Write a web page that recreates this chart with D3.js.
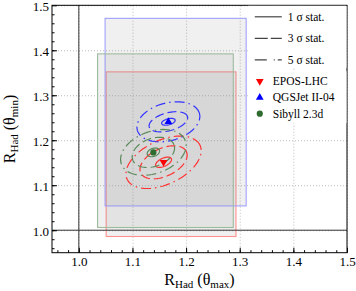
<!DOCTYPE html>
<html>
<head>
<meta charset="utf-8">
<script src="https://cdn.jsdelivr.net/npm/d3@7"></script>
<style>
  body { margin: 0; background: #fff; }
  text { font-family: "Liberation Serif", "DejaVu Serif", serif; fill: #000; }
</style>
</head>
<body>
<div id="chart"></div>
<script>
// ---- data ----
const models = ["EPOS-LHC", "QGSJet II-04", "Sibyll 2.3d"];
const centerX = [1.158, 1.167, 1.139];
const centerY = [1.151, 1.241, 1.173];
// systematic boxes
const boxXMin = [1.051, 1.049, 1.035];
const boxXMax = [1.293, 1.312, 1.288];
const boxYMin = [0.986, 1.054, 1.006];
const boxYMax = [1.352, 1.471, 1.392];
// stat. contours: [half axis along x, half axis along y] for 1, 3, 5 sigma
const sigmaLabels = ["1 σ stat.", "3 σ stat.", "5 σ stat."];
const contourAxes = [
  [[0.016, 0.009], [0.047, 0.031], [0.075, 0.049]],
  [[0.013, 0.0067], [0.037, 0.020], [0.060, 0.042]],
  [[0.012, 0.0089], [0.041, 0.031], [0.0635, 0.0467]]
];
const contourTilt = [25, 15, 20]; // degrees
const xTicks = [1.0, 1.1, 1.2, 1.3, 1.4, 1.5];
const yTicks = [1.0, 1.1, 1.2, 1.3, 1.4, 1.5];

// ---- styles ----
const markerColor = ["#ff0000", "#0000ff", "#2e6b2e"];
const lineColor = ["#ff3333", "#3333ff", "#5a8a5a"];
const boxStroke = ["#ff9090", "#a0a0ff", "#9dbb9d"];
const dashes = [null, "9,4", "10,4,1.5,4"];

// set the dimensions and margins of the graph
const margin = { top: 5.3, right: 9, bottom: 38.3, left: 52 };
const width = 356 - margin.left - margin.right,
  height = 291 - margin.top - margin.bottom;

const svg = d3.select("#chart")
  .append("svg")
  .attr("width", 356)
  .attr("height", 291)
  .append("g")
  .attr("transform", "translate(" + margin.left + "," + margin.top + ")");

const x = d3.scaleLinear().domain([0.95, 1.5]).range([0, width]);
const y = d3.scaleLinear().domain([0.95, 1.5]).range([height, 0]);

// grid
svg.append("g")
  .attr("transform", "translate(0," + height + ")")
  .call(d3.axisBottom(x).tickValues(xTicks).tickSize(-height).tickFormat(""))
  .call(g => g.select(".domain").remove())
  .selectAll("line").attr("stroke", "#bbb").attr("stroke-dasharray", "1,2");
svg.append("g")
  .call(d3.axisLeft(y).tickValues(yTicks).tickSize(-width).tickFormat(""))
  .call(g => g.select(".domain").remove())
  .selectAll("line").attr("stroke", "#bbb").attr("stroke-dasharray", "1,2");

// boxes
const idx = d3.range(models.length);
svg.selectAll("rect.box")
  .data(idx)
  .enter()
  .append("rect")
  .attr("class", "box")
  .attr("x", function (i) { return x(boxXMin[i]); })
  .attr("y", function (i) { return y(boxYMax[i]); })
  .attr("width", function (i) { return x(boxXMax[i]) - x(boxXMin[i]); })
  .attr("height", function (i) { return y(boxYMin[i]) - y(boxYMax[i]); })
  .attr("fill", "#888")
  .attr("fill-opacity", 0.13)
  .attr("stroke", function (i) { return boxStroke[i]; })
  .attr("stroke-width", 1.1);

// reference lines at 1.0
svg.append("line")
  .attr("x1", x(1.0)).attr("x2", x(1.0))
  .attr("y1", 0).attr("y2", height)
  .attr("stroke", "#333").attr("stroke-width", 1);
svg.append("line")
  .attr("x1", 0).attr("x2", width)
  .attr("y1", y(1.0)).attr("y2", y(1.0))
  .attr("stroke", "#333").attr("stroke-width", 1);

// contours
function ellipsePoints(i, level) {
  const a = contourAxes[i][level][0], b = contourAxes[i][level][1];
  const cx = x(centerX[i]), cy = y(centerY[i]);
  const th = contourTilt[i] * Math.PI / 180;
  const pts = [];
  for (let k = 0; k < 72; k++) {
    const t = k / 72 * 2 * Math.PI;
    const dx = x(centerX[i] + a * Math.cos(t)) - cx;
    const dy = y(centerY[i] + b * Math.sin(t)) - cy;
    pts.push([cx + dx * Math.cos(th) + dy * Math.sin(th),
              cy - dx * Math.sin(th) + dy * Math.cos(th)]);
  }
  return pts;
}
const line = d3.line().curve(d3.curveLinearClosed);
idx.forEach(function (i) {
  [0, 1, 2].forEach(function (lv) {
    svg.append("path")
      .attr("d", line(ellipsePoints(i, lv)))
      .attr("fill", "none")
      .attr("stroke", lineColor[i])
      .attr("stroke-width", 1.2)
      .attr("stroke-dasharray", dashes[lv]);
  });
});

// markers
const tri = d3.symbol().type(d3.symbolTriangle).size(26);
const circ = d3.symbol().type(d3.symbolCircle).size(30);
function marker(sel, i) {
  sel.append("path")
    .attr("d", i === 2 ? circ() : tri())
    .attr("transform", i === 0 ? "rotate(180)" : null)
    .attr("fill", markerColor[i]);
}
idx.forEach(function (i) {
  const g = svg.append("g")
    .attr("transform", "translate(" + x(centerX[i]) + "," + y(centerY[i]) + ")");
  marker(g, i);
});

// axes: major and minor ticks inside the frame
const minor = d3.range(0.96, 1.5, 0.02);
svg.append("g")
  .attr("transform", "translate(0," + height + ")")
  .call(d3.axisBottom(x).tickValues(minor).tickSize(-2.5).tickFormat(""))
  .call(g => g.select(".domain").remove());
svg.append("g")
  .call(d3.axisLeft(y).tickValues(minor).tickSize(-2.5).tickFormat(""))
  .call(g => g.select(".domain").remove());
const xAxis = svg.append("g")
  .attr("transform", "translate(0," + height + ")")
  .call(d3.axisBottom(x).tickValues(xTicks).tickSize(-5).tickPadding(4).tickFormat(d3.format(".1f")))
  .call(g => g.select(".domain").remove());
xAxis.selectAll("text").attr("font-size", 13).attr("font-family", "Liberation Serif");
const yAxis = svg.append("g")
  .call(d3.axisLeft(y).tickValues(yTicks).tickSize(-5).tickPadding(3).tickFormat(d3.format(".1f")))
  .call(g => g.select(".domain").remove());
yAxis.selectAll("text").attr("font-size", 13).attr("dy", "0.4em")
  .attr("font-family", "Liberation Serif");
svg.selectAll(".tick line").filter(function () { return !this.getAttribute("stroke-dasharray"); })
  .attr("stroke", "#000");

// frame
svg.append("rect")
  .attr("width", width).attr("height", height)
  .attr("fill", "none").attr("stroke", "#000").attr("stroke-width", 1);

// axis titles
const xt = svg.append("text")
  .attr("x", width / 2).attr("y", height + 32)
  .attr("text-anchor", "middle").attr("font-size", 16);
xt.append("tspan").text("R");
xt.append("tspan").attr("font-size", 11).attr("dy", 3).text("Had");
xt.append("tspan").attr("dy", -3).text(" (θ");
xt.append("tspan").attr("font-size", 11).attr("dy", 3).text("max");
xt.append("tspan").attr("dy", -3).text(")");

const yt = svg.append("text")
  .attr("transform", "translate(" + (-37) + "," + (height / 2) + ")rotate(-90)")
  .attr("text-anchor", "middle").attr("font-size", 16);
yt.append("tspan").text("R");
yt.append("tspan").attr("font-size", 11).attr("dy", 3).text("Had");
yt.append("tspan").attr("dy", -3).text(" (θ");
yt.append("tspan").attr("font-size", 11).attr("dy", 3).text("min");
yt.append("tspan").attr("dy", -3).text(")");

// legend for line styles
const lx = x(1.315), lw = width - x(1.315);
svg.append("rect")
  .attr("x", lx).attr("y", 0.5).attr("width", lw - 0.5).attr("height", 62)
  .attr("fill", "#fff");
sigmaLabels.forEach(function (lab, k) {
  const ly = 11.5 + k * 21.5;
  svg.append("line")
    .attr("x1", lx + 7).attr("x2", lx + 34)
    .attr("y1", ly).attr("y2", ly)
    .attr("stroke", "#444").attr("stroke-width", 1.2)
    .attr("stroke-dasharray", k === 1 ? "13,3" : (k === 2 ? "12,7,1,3" : null));
  svg.append("text")
    .attr("x", lx + 40).attr("y", ly + 4)
    .attr("font-size", 11.5).text(lab);
});

// legend for models
svg.append("rect")
  .attr("x", lx).attr("y", 66).attr("width", lw - 0.5).attr("height", 52)
  .attr("fill", "#fff");
models.forEach(function (m, i) {
  const ly = 76 + i * 16.2;
  const g = svg.append("g").attr("transform", "translate(" + (lx + 12) + "," + ly + ")");
  marker(g, i);
  svg.append("text")
    .attr("x", lx + 25).attr("y", ly + 4)
    .attr("font-size", 11.5).text(m);
});
</script>
</body>
</html>
